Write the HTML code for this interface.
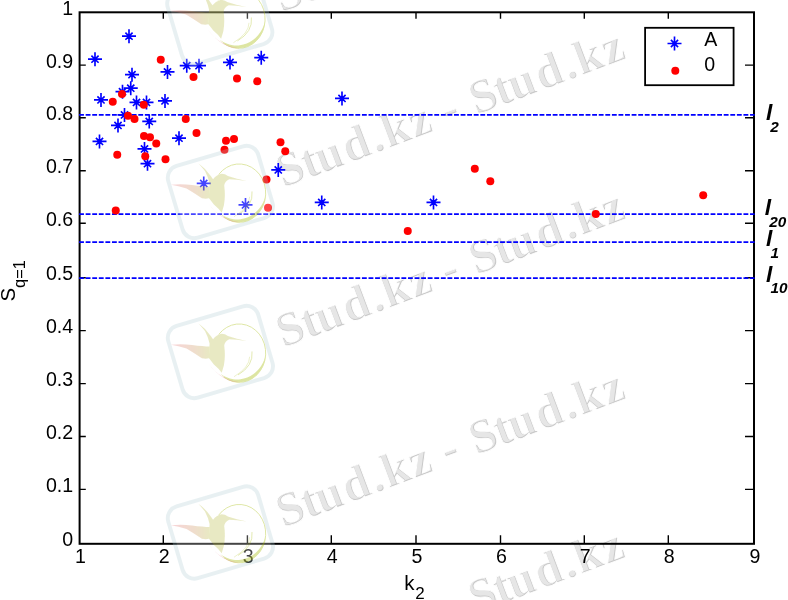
<!DOCTYPE html>
<html><head><meta charset="utf-8"><title>plot</title>
<style>
html,body{margin:0;padding:0;background:#fff;}
body{width:788px;height:600px;overflow:hidden;position:relative;}
svg{position:absolute;left:0;top:0;display:block;}
text{font-family:"Liberation Sans",Arial,Helvetica,sans-serif;}
.wm{font-family:"Liberation Serif","Times New Roman",serif;font-weight:bold;font-size:48px;}
.w1{fill:#e6e6e6;stroke:none;}
.w2{fill:none;stroke:#cacaca;stroke-width:2px;}
.w3{fill:none;stroke:#fff;stroke-width:0.9px;}
.bi{font-weight:bold;font-style:italic;}
</style></head><body>
<svg width="788" height="600" viewBox="0 0 788 600">
<rect x="0" y="0" width="788" height="600" fill="#fff"/>

<g transform="translate(281.3 12.5) rotate(-20.65)"><g class="w1"><text id="wt0" class="wm" x="0.00 25.80 40.80 69.85 98.80 112.30 140.50 164.00 175.25 194.00 206.10 231.90 246.90 275.95 304.90 318.40 346.60" y="0">Stud.kz - Stud.kz</text></g><clipPath id="wc0"><use href="#wt0"/></clipPath><g clip-path="url(#wc0)"><use href="#wt0" class="w2" transform="translate(-0.233 -0.515)"/></g><use href="#wt0" class="w3"/></g>
<g transform="translate(283.3 187.8) rotate(-20.65)"><g class="w1"><text id="wt1" class="wm" x="0.00 25.80 40.80 69.85 98.80 112.30 140.50 164.00 175.25 194.00 206.10 231.90 246.90 275.95 304.90 318.40 346.60" y="0">Stud.kz - Stud.kz</text></g><clipPath id="wc1"><use href="#wt1"/></clipPath><g clip-path="url(#wc1)"><use href="#wt1" class="w2" transform="translate(-0.233 -0.515)"/></g><use href="#wt1" class="w3"/></g>
<g transform="translate(283.3 347.8) rotate(-20.65)"><g class="w1"><text id="wt2" class="wm" x="0.00 25.80 40.80 69.85 98.80 112.30 140.50 164.00 175.25 194.00 206.10 231.90 246.90 275.95 304.90 318.40 346.60" y="0">Stud.kz - Stud.kz</text></g><clipPath id="wc2"><use href="#wt2"/></clipPath><g clip-path="url(#wc2)"><use href="#wt2" class="w2" transform="translate(-0.233 -0.515)"/></g><use href="#wt2" class="w3"/></g>
<g transform="translate(283.3 527.8) rotate(-20.65)"><g class="w1"><text id="wt3" class="wm" x="0.00 25.80 40.80 69.85 98.80 112.30 140.50 164.00 175.25 194.00 206.10 231.90 246.90 275.95 304.90 318.40 346.60" y="0">Stud.kz - Stud.kz</text></g><clipPath id="wc3"><use href="#wt3"/></clipPath><g clip-path="url(#wc3)"><use href="#wt3" class="w2" transform="translate(-0.233 -0.515)"/></g><use href="#wt3" class="w3"/></g>
<g transform="translate(282.8 686.4000000000001) rotate(-20.65)"><g class="w1"><text id="wt4" class="wm" x="0.00 25.80 40.80 69.85 98.80 112.30 140.50 164.00 175.25 194.00 206.10 231.90 246.90 275.95 304.90 318.40 346.60" y="0">Stud.kz - Stud.kz</text></g><clipPath id="wc4"><use href="#wt4"/></clipPath><g clip-path="url(#wc4)"><use href="#wt4" class="w2" transform="translate(-0.233 -0.515)"/></g><use href="#wt4" class="w3"/></g>
<rect x="79.6" y="12.3" width="674.4" height="531.5" fill="none" stroke="#000" stroke-width="2"/>
<path d="M79.6 65.1h6.2M754.0 65.1h-9M79.6 117.8h6.2M754.0 117.8h-9M79.6 170.8h6.2M754.0 170.8h-9M79.6 223.3h6.2M754.0 223.3h-9M79.6 277.8h6.2M754.0 277.8h-9M79.6 330.6h6.2M754.0 330.6h-9M79.6 383.6h6.2M754.0 383.6h-9M79.6 436.5h6.2M754.0 436.5h-9M79.6 489.4h6.2M754.0 489.4h-9M163.3 543.8v-8.6M163.3 12.3v6.5M247.4 543.8v-8.6M247.4 12.3v6.5M331.3 543.8v-8.6M331.3 12.3v6.5M416.0 543.8v-8.6M416.0 12.3v6.5M500.5 543.8v-8.6M500.5 12.3v6.5M584.3 543.8v-8.6M584.3 12.3v6.5M668.3 543.8v-8.6M668.3 12.3v6.5" stroke="#000" stroke-width="1.4" fill="none"/>
<text x="73.2" y="14.9" font-size="19.6" text-anchor="end">1</text>
<text x="73.2" y="67.7" font-size="19.6" text-anchor="end">0.9</text>
<text x="73.2" y="120.4" font-size="19.6" text-anchor="end">0.8</text>
<text x="73.2" y="173.4" font-size="19.6" text-anchor="end">0.7</text>
<text x="73.2" y="225.9" font-size="19.6" text-anchor="end">0.6</text>
<text x="73.2" y="280.4" font-size="19.6" text-anchor="end">0.5</text>
<text x="73.2" y="333.2" font-size="19.6" text-anchor="end">0.4</text>
<text x="73.2" y="386.2" font-size="19.6" text-anchor="end">0.3</text>
<text x="73.2" y="439.1" font-size="19.6" text-anchor="end">0.2</text>
<text x="73.2" y="492.0" font-size="19.6" text-anchor="end">0.1</text>
<text x="73.2" y="546.4" font-size="19.6" text-anchor="end">0</text>
<text x="80.5" y="563.4" font-size="19.6" text-anchor="middle">1</text>
<text x="164.2" y="563.4" font-size="19.6" text-anchor="middle">2</text>
<text x="248.3" y="563.4" font-size="19.6" text-anchor="middle">3</text>
<text x="332.2" y="563.4" font-size="19.6" text-anchor="middle">4</text>
<text x="416.9" y="563.4" font-size="19.6" text-anchor="middle">5</text>
<text x="501.4" y="563.4" font-size="19.6" text-anchor="middle">6</text>
<text x="585.2" y="563.4" font-size="19.6" text-anchor="middle">7</text>
<text x="669.2" y="563.4" font-size="19.6" text-anchor="middle">8</text>
<text x="754.9" y="563.4" font-size="19.6" text-anchor="middle">9</text>
<text x="404.2" y="589.7" font-size="20.5">k<tspan font-size="17" dy="9.5" dx="0.7">2</tspan></text>
<text transform="translate(15.3 301.6) rotate(-90)" font-size="20.5">S<tspan font-size="16.3" dy="9.7">q=1</tspan></text>
<line x1="79.08" y1="114.8" x2="754.6" y2="114.8" stroke="#0000ff" stroke-width="1.75" stroke-dasharray="4.85 1.728"/>
<line x1="79.08" y1="214.2" x2="754.6" y2="214.2" stroke="#0000ff" stroke-width="1.75" stroke-dasharray="4.85 1.728"/>
<line x1="79.08" y1="242.1" x2="754.6" y2="242.1" stroke="#0000ff" stroke-width="1.75" stroke-dasharray="4.85 1.728"/>
<line x1="79.08" y1="278.0" x2="754.6" y2="278.0" stroke="#0000ff" stroke-width="1.75" stroke-dasharray="4.85 1.728"/>
<path d="M122.00 36.15H136.00M129.00 29.15V43.15M125.40 32.55L132.60 39.75M125.40 39.75L132.60 32.55M88.00 59.15H102.00M95.00 52.15V66.15M91.40 55.55L98.60 62.75M91.40 62.75L98.60 55.55M125.00 74.65H139.00M132.00 67.65V81.65M128.40 71.05L135.60 78.25M128.40 78.25L135.60 71.05M160.50 71.90H174.50M167.50 64.90V78.90M163.90 68.30L171.10 75.50M163.90 75.50L171.10 68.30M179.75 65.65H193.75M186.75 58.65V72.65M183.15 62.05L190.35 69.25M183.15 69.25L190.35 62.05M192.00 65.65H206.00M199.00 58.65V72.65M195.40 62.05L202.60 69.25M195.40 69.25L202.60 62.05M223.00 62.40H237.00M230.00 55.40V69.40M226.40 58.80L233.60 66.00M226.40 66.00L233.60 58.80M254.25 57.65H268.25M261.25 50.65V64.65M257.65 54.05L264.85 61.25M257.65 61.25L264.85 54.05M123.75 88.15H137.75M130.75 81.15V95.15M127.15 84.55L134.35 91.75M127.15 91.75L134.35 84.55M115.50 91.65H129.50M122.50 84.65V98.65M118.90 88.05L126.10 95.25M118.90 95.25L126.10 88.05M94.00 99.90H108.00M101.00 92.90V106.90M97.40 96.30L104.60 103.50M97.40 103.50L104.60 96.30M129.50 102.40H143.50M136.50 95.40V109.40M132.90 98.80L140.10 106.00M132.90 106.00L140.10 98.80M139.50 102.40H153.50M146.50 95.40V109.40M142.90 98.80L150.10 106.00M142.90 106.00L150.10 98.80M158.00 100.90H172.00M165.00 93.90V107.90M161.40 97.30L168.60 104.50M161.40 104.50L168.60 97.30M117.50 114.90H131.50M124.50 107.90V121.90M120.90 111.30L128.10 118.50M120.90 118.50L128.10 111.30M142.25 121.40H156.25M149.25 114.40V128.40M145.65 117.80L152.85 125.00M145.65 125.00L152.85 117.80M111.00 125.40H125.00M118.00 118.40V132.40M114.40 121.80L121.60 129.00M114.40 129.00L121.60 121.80M92.50 141.40H106.50M99.50 134.40V148.40M95.90 137.80L103.10 145.00M95.90 145.00L103.10 137.80M172.00 138.15H186.00M179.00 131.15V145.15M175.40 134.55L182.60 141.75M175.40 141.75L182.60 134.55M137.50 148.90H151.50M144.50 141.90V155.90M140.90 145.30L148.10 152.50M140.90 152.50L148.10 145.30M140.50 163.65H154.50M147.50 156.65V170.65M143.90 160.05L151.10 167.25M143.90 167.25L151.10 160.05M271.25 169.90H285.25M278.25 162.90V176.90M274.65 166.30L281.85 173.50M274.65 173.50L281.85 166.30M335.00 98.40H349.00M342.00 91.40V105.40M338.40 94.80L345.60 102.00M338.40 102.00L345.60 94.80M314.75 202.40H328.75M321.75 195.40V209.40M318.15 198.80L325.35 206.00M318.15 206.00L325.35 198.80M426.50 202.40H440.50M433.50 195.40V209.40M429.90 198.80L437.10 206.00M429.90 206.00L437.10 198.80M196.75 183.40H210.75M203.75 176.40V190.40M200.15 179.80L207.35 187.00M200.15 187.00L207.35 179.80M238.50 204.90H252.50M245.50 197.90V211.90M241.90 201.30L249.10 208.50M241.90 208.50L249.10 201.30" stroke="#0000ff" stroke-width="1.65" fill="none"/>
<circle cx="160.75" cy="59.85" r="4" fill="#ff0000"/>
<circle cx="193.5" cy="77.10" r="4" fill="#ff0000"/>
<circle cx="237" cy="78.60" r="4" fill="#ff0000"/>
<circle cx="257.25" cy="81.35" r="4" fill="#ff0000"/>
<circle cx="122" cy="94.10" r="4" fill="#ff0000"/>
<circle cx="112.75" cy="101.85" r="4" fill="#ff0000"/>
<circle cx="143.75" cy="104.85" r="4" fill="#ff0000"/>
<circle cx="128" cy="115.85" r="4" fill="#ff0000"/>
<circle cx="134.5" cy="119.10" r="4" fill="#ff0000"/>
<circle cx="185.75" cy="119.10" r="4" fill="#ff0000"/>
<circle cx="196.5" cy="133.10" r="4" fill="#ff0000"/>
<circle cx="144" cy="136.10" r="4" fill="#ff0000"/>
<circle cx="150" cy="137.35" r="4" fill="#ff0000"/>
<circle cx="156.25" cy="143.60" r="4" fill="#ff0000"/>
<circle cx="226" cy="140.85" r="4" fill="#ff0000"/>
<circle cx="234" cy="139.10" r="4" fill="#ff0000"/>
<circle cx="224.5" cy="149.85" r="4" fill="#ff0000"/>
<circle cx="117.25" cy="154.85" r="4" fill="#ff0000"/>
<circle cx="145.25" cy="156.35" r="4" fill="#ff0000"/>
<circle cx="165.5" cy="159.35" r="4" fill="#ff0000"/>
<circle cx="280.5" cy="142.35" r="4" fill="#ff0000"/>
<circle cx="285.25" cy="151.35" r="4" fill="#ff0000"/>
<circle cx="266.5" cy="179.60" r="4" fill="#ff0000"/>
<circle cx="268" cy="207.85" r="4" fill="#ff0000"/>
<circle cx="407.75" cy="231.10" r="4" fill="#ff0000"/>
<circle cx="115.75" cy="210.60" r="4" fill="#ff0000"/>
<circle cx="474.8" cy="168.75" r="4" fill="#ff0000"/>
<circle cx="490.3" cy="181.25" r="4" fill="#ff0000"/>
<circle cx="595.8" cy="213.95" r="4" fill="#ff0000"/>
<circle cx="703.2" cy="195.25" r="4" fill="#ff0000"/>
<rect x="645.1" y="27.8" width="88.5" height="57.4" fill="#fff" stroke="#000" stroke-width="1.8"/>
<path d="M667.50 43.50H681.50M674.50 36.50V50.50M670.90 39.90L678.10 47.10M670.90 47.10L678.10 39.90" stroke="#0000ff" stroke-width="1.65" fill="none"/>
<circle cx="675.3" cy="70.7" r="4" fill="#ff0000"/>
<text x="704.2" y="45.9" font-size="19.6">A</text>
<text x="704.2" y="71" font-size="19.6">0</text>
<text class="bi" x="766" y="119.8" font-size="22.8">l<tspan font-size="15.3" dy="12.3" dx="-2.0">2</tspan></text>
<text class="bi" x="764.8" y="214.8" font-size="22.8">l<tspan font-size="15.3" dy="11.7" dx="-2.0">20</tspan></text>
<text class="bi" x="766.1" y="246" font-size="22.8">l<tspan font-size="15.3" dy="11.7" dx="-2.0">1</tspan></text>
<text class="bi" x="766.1" y="281.7" font-size="22.8">l<tspan font-size="15.3" dy="11.7" dx="-2.0">10</tspan></text>
<defs><linearGradient id="tg" x1="0" y1="0" x2="1" y2="0"><stop offset="0" stop-color="#e66070"/><stop offset="0.6" stop-color="#c78546"/><stop offset="1" stop-color="#adb124"/></linearGradient><g id="lg">
<g opacity="0.27"><rect x="-336" y="-268" width="672" height="536" rx="88" ry="88" transform="translate(402.6 300.9) rotate(-16.5)" fill="#fff" stroke="#abcad2" stroke-width="28"/></g>
<g opacity="0.36" fill="none" stroke="#a4ba00">
<path d="M391.5 174.7 A190 209 0 1 1 428 480.2" stroke-width="7"/>
<path d="M726.3 327.2 A190 209 0 0 1 402.6 456.8 A211 232 0 0 0 726.3 327.2Z" fill="#a4ba00" stroke="none"/>
<path d="M629 297 Q640 400 529 465" stroke-width="6"/>
<path d="M612 335 Q612 410 500 478" stroke-width="4"/>
</g>
<g opacity="0.27">
<path d="M318 385 Q400 500 545 518 Q420 520 318 385Z" fill="#e15867"/>
<path d="M245 95 Q300 135 335 188 L350 210 Q372 180 410 171 Q438 172 456 186 L521 205.5 L592 222 L521 212.5 L466 210 Q432 228 430 255 Q440 330 428 395 L412 450 Q392 420 356 390 Q334 362 318 342 L322 300 L325 240 Q316 195 292 150 Z" fill="#adb124"/>
<path d="M320 345 Q300 352 270 345 Q220 312 160 276 Q100 258 48 249 Q120 243 200 250 Q280 260 327 262 L325 300 Z" fill="url(#tg)"/>
</g>
</g></defs>
<use href="#lg" transform="translate(163.6 -24) scale(0.13959)"/>
<use href="#lg" transform="translate(164.2 150) scale(0.13959)"/>
<use href="#lg" transform="translate(164.2 310) scale(0.13959)"/>
<use href="#lg" transform="translate(164.2 490.5) scale(0.13959)"/>
</svg></body></html>
